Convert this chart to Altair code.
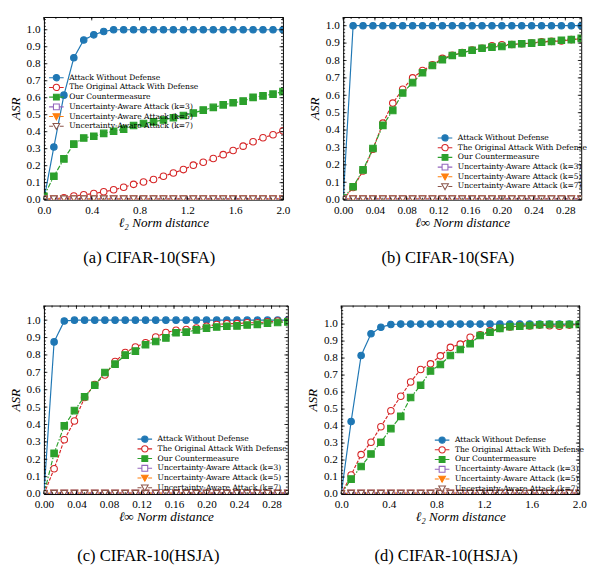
import altair as alt
import pandas as pd
import numpy as np

SERIES = ["Attack Without Defense", "The Original Attack With Defense", "Our Countermeasure",
          "Uncertainty-Aware Attack (k=3)", "Uncertainty-Aware Attack (k=5)", "Uncertainty-Aware Attack (k=7)"]
COLORS = ["#1f77b4", "#d62728", "#2ca02c", "#9467bd", "#ff7f0e", "#8c564b"]
FILLS = ["#1f77b4", "white", "#2ca02c", "white", "#ff7f0e", "white"]
SHAPES = ["circle", "circle", "square", "square", "triangle-down", "triangle-down"]
DASHES = [[1, 0], [3.5, 1.5], [5, 1.8, 1.5, 1.8], [1.2, 1.5], [1, 0], [5, 1.8, 1.5, 1.8]]
# legend glyphs: short line with the marker in the middle (units of 3 px, drawn right of the anchor)
LEG_PATHS = [
    "M-0.9,0H0.53M2.67,0H4.1M2.67,0A1.07,1.07,0,1,1,0.53,0A1.07,1.07,0,1,1,2.67,0Z",
    "M-0.9,0H0.53M2.67,0H4.1M2.67,0A1.07,1.07,0,1,1,0.53,0A1.07,1.07,0,1,1,2.67,0Z",
    "M-0.9,0H0.6M2.6,0H4.1M0.6,-1H2.6V1H0.6Z",
    "M-0.9,0H0.6M2.6,0H4.1M0.6,-1H2.6V1H0.6Z",
    "M-0.9,0H0.45M2.75,0H4.1M0.45,-0.95L2.75,-0.95L1.6,1.1Z",
    "M-0.9,0H0.45M2.75,0H4.1M0.45,-0.95L2.75,-0.95L1.6,1.1Z",
]

x_l2 = [0.0, 0.083, 0.167, 0.25, 0.333, 0.417, 0.5, 0.583, 0.667, 0.75, 0.833, 0.917, 1.0,
        1.083, 1.167, 1.25, 1.333, 1.417, 1.5, 1.583, 1.667, 1.75, 1.833, 1.917, 2.0]
x_linf = [0.0, 0.0125, 0.025, 0.0375, 0.05, 0.0625, 0.075, 0.0875, 0.1, 0.1125, 0.125, 0.1375, 0.15,
          0.1625, 0.175, 0.1875, 0.2, 0.2125, 0.225, 0.2375, 0.25, 0.2625, 0.275, 0.2875, 0.3]

unc = [0.003, 0.005, 0.005, 0.005, 0.005, 0.005, 0.005, 0.005, 0.005, 0.005, 0.005, 0.005, 0.005,
       0.005, 0.005, 0.005, 0.005, 0.005, 0.005, 0.005, 0.005, 0.005, 0.005, 0.005, 0.005]

# (a) CIFAR-10(SFA), l2
a_blue = [0.0, 0.31, 0.615, 0.835, 0.94, 0.97, 0.99, 1.0, 1.0, 1.0, 1.0, 1.0, 1.0,
          1.0, 1.0, 1.0, 1.0, 1.0, 1.0, 1.0, 1.0, 1.0, 1.0, 1.0, 1.0]
a_red = [0.0, 0.005, 0.011, 0.021, 0.029, 0.036, 0.046, 0.058, 0.073, 0.09, 0.104, 0.119, 0.138,
         0.157, 0.177, 0.203, 0.22, 0.242, 0.265, 0.289, 0.315, 0.341, 0.364, 0.382, 0.405]
a_green = [0.02, 0.138, 0.24, 0.327, 0.363, 0.373, 0.39, 0.403, 0.415, 0.436, 0.448, 0.458, 0.469,
           0.482, 0.495, 0.51, 0.527, 0.543, 0.558, 0.57, 0.58, 0.602, 0.611, 0.621, 0.636]

# (b) CIFAR-10(SFA), linf
b_blue = [0.0, 1.0, 1.0, 1.0, 1.0, 1.0, 1.0, 1.0, 1.0, 1.0, 1.0, 1.0, 1.0,
          1.0, 1.0, 1.0, 1.0, 1.0, 1.0, 1.0, 1.0, 1.0, 1.0, 1.0, 1.0]
b_red = [0.0, 0.07, 0.165, 0.29, 0.44, 0.555, 0.635, 0.70, 0.742, 0.775, 0.812, 0.83, 0.845,
         0.86, 0.87, 0.885, 0.89, 0.892, 0.896, 0.9, 0.908, 0.91, 0.912, 0.92, 0.925]
b_green = [0.01, 0.074, 0.171, 0.294, 0.427, 0.513, 0.613, 0.673, 0.73, 0.771, 0.805, 0.829, 0.844,
           0.859, 0.87, 0.877, 0.881, 0.892, 0.896, 0.9, 0.905, 0.909, 0.916, 0.92, 0.927]

# (c) CIFAR-10(HSJA), linf
c_blue = [0.0, 0.875, 0.995, 1.0, 1.0, 1.0, 1.0, 1.0, 1.0, 1.0, 1.0, 1.0, 1.0,
          1.0, 1.0, 1.0, 1.0, 1.0, 1.0, 1.0, 1.0, 1.0, 1.0, 1.0, 1.0]
c_red = [0.0, 0.145, 0.312, 0.42, 0.555, 0.63, 0.685, 0.762, 0.814, 0.846, 0.87, 0.903, 0.929,
         0.942, 0.946, 0.955, 0.965, 0.975, 0.98, 0.98, 0.985, 0.985, 0.99, 0.995, 0.995]
c_green = [0.0, 0.234, 0.392, 0.48, 0.56, 0.626, 0.699, 0.747, 0.799, 0.822, 0.859, 0.877, 0.898,
           0.928, 0.931, 0.944, 0.954, 0.961, 0.965, 0.967, 0.972, 0.976, 0.983, 0.987, 0.99]

# (d) CIFAR-10(HSJA), l2
d_blue = [0.0, 0.427, 0.815, 0.943, 0.981, 0.998, 1.0, 1.0, 1.0, 1.0, 1.0, 1.0, 1.0,
          1.0, 1.0, 1.0, 1.0, 1.0, 1.0, 1.0, 1.0, 1.0, 1.0, 1.0, 1.0]
d_red = [0.0, 0.112, 0.232, 0.305, 0.396, 0.49, 0.575, 0.659, 0.733, 0.766, 0.813, 0.863, 0.882,
         0.922, 0.937, 0.96, 0.975, 0.983, 0.989, 0.989, 0.994, 0.99, 0.987, 0.994, 0.998]
d_green = [0.0, 0.088, 0.162, 0.236, 0.305, 0.385, 0.457, 0.568, 0.64, 0.724, 0.762, 0.815, 0.85,
           0.884, 0.933, 0.952, 0.975, 0.985, 0.987, 0.992, 0.996, 0.998, 0.996, 0.998, 0.998]

# tick positions
x_major_l2 = [0.0, 0.4, 0.8, 1.2, 1.6, 2.0]
x_major_linf = [0.0, 0.04, 0.08, 0.12, 0.16, 0.20, 0.24, 0.28]
y_major = [0.0, 0.1, 0.2, 0.3, 0.4, 0.5, 0.6, 0.7, 0.8, 0.9, 1.0]
x_minor_l2 = [float(v) for v in np.round(np.arange(0, 2.001, 0.1), 3)]
x_minor_linf = [float(v) for v in np.round(np.arange(0, 0.3001, 0.01), 3)]
y_minor = [float(v) for v in np.round(np.arange(0, 1.1001, 0.02), 3)]

LBL_FONT = "Liberation Serif"


def panel(xs, ys, xdom, xmaj, xmin, xfmt, ymax, xtitle, caption, W, H, lx, ly, cap_off):
    rows = []
    for s, yv in zip(SERIES, ys):
        for xv, v in zip(xs, yv):
            rows.append({"x": xv, "y": v, "s": s})
    df = pd.DataFrame(rows)
    xsc = alt.Scale(domain=xdom, nice=False, zero=False)
    ysc = alt.Scale(domain=[0, ymax], nice=False, zero=False)
    xaxis = alt.Axis(values=xmaj, format=xfmt, title=xtitle, ticks=False, domain=False, grid=False,
                     labelFont=LBL_FONT, labelFontSize=11.5, labelPadding=5, labelColor="black",
                     labelFlush=False, labelOverlap=False,
                     titleFont=LBL_FONT, titleFontStyle="italic", titleFontWeight="normal",
                     titleFontSize=13.5, titlePadding=0, titleColor="black")
    yaxis = alt.Axis(values=y_major, format=".1f", title="ASR", ticks=False, domain=False, grid=False,
                     labelFont=LBL_FONT, labelFontSize=11.5, labelPadding=4, labelColor="black",
                     labelFlush=False, labelOverlap=False,
                     titleFont=LBL_FONT, titleFontStyle="italic", titleFontWeight="normal",
                     titleFontSize=13.5, titlePadding=4, titleColor="black")
    base = alt.Chart(df)
    lines = base.mark_line(strokeWidth=1.2, clip=True).encode(
        x=alt.X("x:Q", scale=xsc, axis=xaxis),
        y=alt.Y("y:Q", scale=ysc, axis=yaxis),
        stroke=alt.Stroke("s:N", scale=alt.Scale(domain=SERIES, range=COLORS), legend=None),
        strokeDash=alt.StrokeDash("s:N", scale=alt.Scale(domain=SERIES, range=DASHES), legend=None),
    )
    pts = base.mark_point(size=45, strokeWidth=1.1, opacity=1, clip=True).encode(
        x=alt.X("x:Q", scale=xsc, axis=xaxis),
        y=alt.Y("y:Q", scale=ysc, axis=yaxis),
        stroke=alt.Stroke("s:N", scale=alt.Scale(domain=SERIES, range=COLORS), legend=None),
        fill=alt.Fill("s:N", scale=alt.Scale(domain=SERIES, range=FILLS), legend=None),
        shape=alt.Shape("s:N", scale=alt.Scale(domain=SERIES, range=SHAPES), legend=None),
    )
    layers = [lines, pts]
    for vals, ln in ((xmaj, 3.5), (xmin, 2)):
        dfx = pd.DataFrame({"x": [v for v in vals if xdom[0] <= v <= xdom[1]]})
        layers.append(alt.Chart(dfx).mark_rule(strokeWidth=0.8, color="black").encode(
            x=alt.X("x:Q", scale=xsc, axis=xaxis), y=alt.value(H), y2=alt.value(H - ln)))
        layers.append(alt.Chart(dfx).mark_rule(strokeWidth=0.8, color="black").encode(
            x=alt.X("x:Q", scale=xsc, axis=xaxis), y=alt.value(0), y2=alt.value(ln)))
    for vals, ln in ((y_major, 3.5), (y_minor, 2)):
        dfy = pd.DataFrame({"y": [v for v in vals if v <= ymax]})
        layers.append(alt.Chart(dfy).mark_rule(strokeWidth=0.8, color="black").encode(
            y=alt.Y("y:Q", scale=ysc, axis=yaxis), x=alt.value(0), x2=alt.value(ln)))
        layers.append(alt.Chart(dfy).mark_rule(strokeWidth=0.8, color="black").encode(
            y=alt.Y("y:Q", scale=ysc, axis=yaxis), x=alt.value(W), x2=alt.value(W - ln)))
    L = alt.Legend(title=None, orient="none", legendX=lx, legendY=ly, symbolSize=36,
                   symbolStrokeWidth=1.1, labelFont="DejaVu Serif", labelFontSize=7.8,
                   labelColor="black", labelOffset=14, rowPadding=-2.7, padding=0,
                   symbolOpacity=1)
    leg = base.transform_filter("false").mark_point(opacity=1, strokeWidth=1.1).encode(
        shape=alt.Shape("s:N", scale=alt.Scale(domain=SERIES, range=LEG_PATHS), legend=L),
        stroke=alt.Stroke("s:N", scale=alt.Scale(domain=SERIES, range=COLORS), legend=L),
        fill=alt.Fill("s:N", scale=alt.Scale(domain=SERIES, range=FILLS), legend=L),
    )
    layers.append(leg)
    return alt.layer(*layers).resolve_scale(
        stroke="independent", fill="independent", shape="independent", strokeDash="independent"
    ).properties(
        width=W, height=H,
        title=alt.TitleParams(caption, orient="bottom", font="Liberation Serif", fontSize=17,
                              fontWeight="normal", color="black", offset=cap_off, anchor="middle",
                              frame="bounds"),
    )


pa = panel(x_l2, [a_blue, a_red, a_green, unc, unc, unc], [0, 2], x_major_l2, x_minor_l2, ".1f",
           1.075, "\u2113\u2082 Norm distance", "(a)  CIFAR-10(SFA)", 246, 188, 4, 58.5, 22)
pb = panel(x_linf, [b_blue, b_red, b_green, unc, unc, unc], [0, 0.3], x_major_linf, x_minor_linf, ".2f",
           1.05, "\u2113\u221e Norm distance", "(b)  CIFAR-10(SFA)", 245, 188, 96, 120.5, 22)
pc = panel(x_linf, [c_blue, c_red, c_green, unc, unc, unc], [0, 0.3], x_major_linf, x_minor_linf, ".2f",
           1.084, "\u2113\u221e Norm distance", "(c)  CIFAR-10(HSJA)", 251, 194, 95, 133.5, 26)
pd_ = panel(x_l2, [d_blue, d_red, d_green, unc, unc, unc], [0, 2], x_major_l2, x_minor_l2, ".1f",
            1.109, "\u2113\u2082 Norm distance", "(d)  CIFAR-10(HSJA)", 245, 194, 95, 134.5, 26)

row1 = alt.hconcat(pa, pb, spacing=17)
row2 = alt.hconcat(pc, pd_, spacing=17)
chart = alt.vconcat(row1, row2, spacing=39, padding=0).configure_view(
    stroke="black", strokeWidth=1
)
chart.save("out.html", embed_options={"renderer": "svg", "actions": False})
